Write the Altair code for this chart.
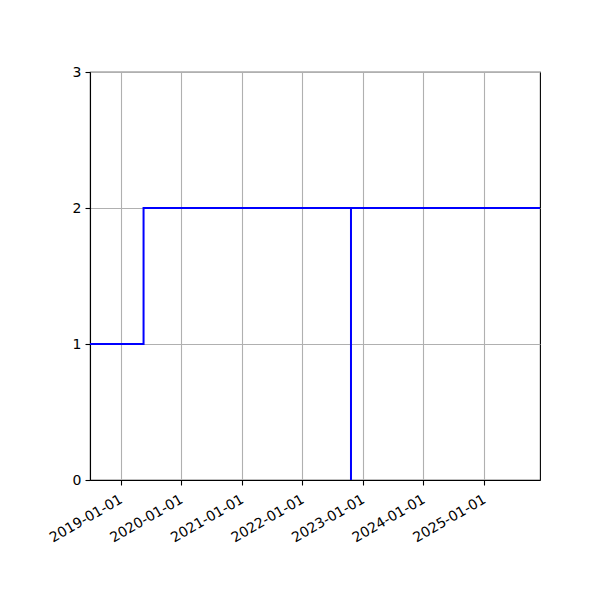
import altair as alt
import pandas as pd

# step series: dates and values (steps-post style)
dates = ["2018-07-01", "2019-05-20", "2022-10-22", "2022-10-22", "2025-12-05"]
values = [1, 2, 0, 2, 2]
tick_years = [2019, 2020, 2021, 2022, 2023, 2024, 2025]
y_ticks = [0, 1, 2, 3]

df = pd.DataFrame({"date": dates, "value": values, "idx": range(len(dates))})

x_ticks = [alt.DateTime(year=y, month=1, date=1, utc=True) for y in tick_years]

line = alt.Chart(df).mark_line(
    color="#0000ff", strokeWidth=2, interpolate="step-after", clip=True
).encode(
    x=alt.X("date:T",
            scale=alt.Scale(type="utc",
                            domain=[alt.DateTime(year=2018, month=7, date=1, utc=True),
                                    alt.DateTime(year=2025, month=12, date=5, utc=True)]),
            axis=alt.Axis(title=None, values=x_ticks, format="%Y-%m-%d",
                          labelAngle=-30, labelAlign="right", labelBaseline="top",
                          labelOverlap=False, labelPadding=7, labelOffset=-3, grid=True)),
    y=alt.Y("value:Q",
            scale=alt.Scale(domain=[0, 3], nice=False, zero=False),
            axis=alt.Axis(title=None, values=y_ticks, format="d", grid=True)),
    order="idx:Q",
)

chart = line.properties(
    width=450, height=408,
    background="white",
    autosize=alt.AutoSizeParams(type="none"),
    padding={"left": 82, "top": 64, "right": 52, "bottom": 112},
).configure_view(
    stroke="black", strokeWidth=1.1
).configure_axis(
    labelFont="DejaVu Sans", labelFontSize=14, labelColor="black",
    domainColor="black", domainWidth=1.1,
    tickColor="black", tickSize=5, tickWidth=1.1,
    gridColor="#b0b0b0", gridWidth=1.1, labelPadding=4,
)

chart.save("out.html", embed_options={"renderer": "svg", "actions": False})
